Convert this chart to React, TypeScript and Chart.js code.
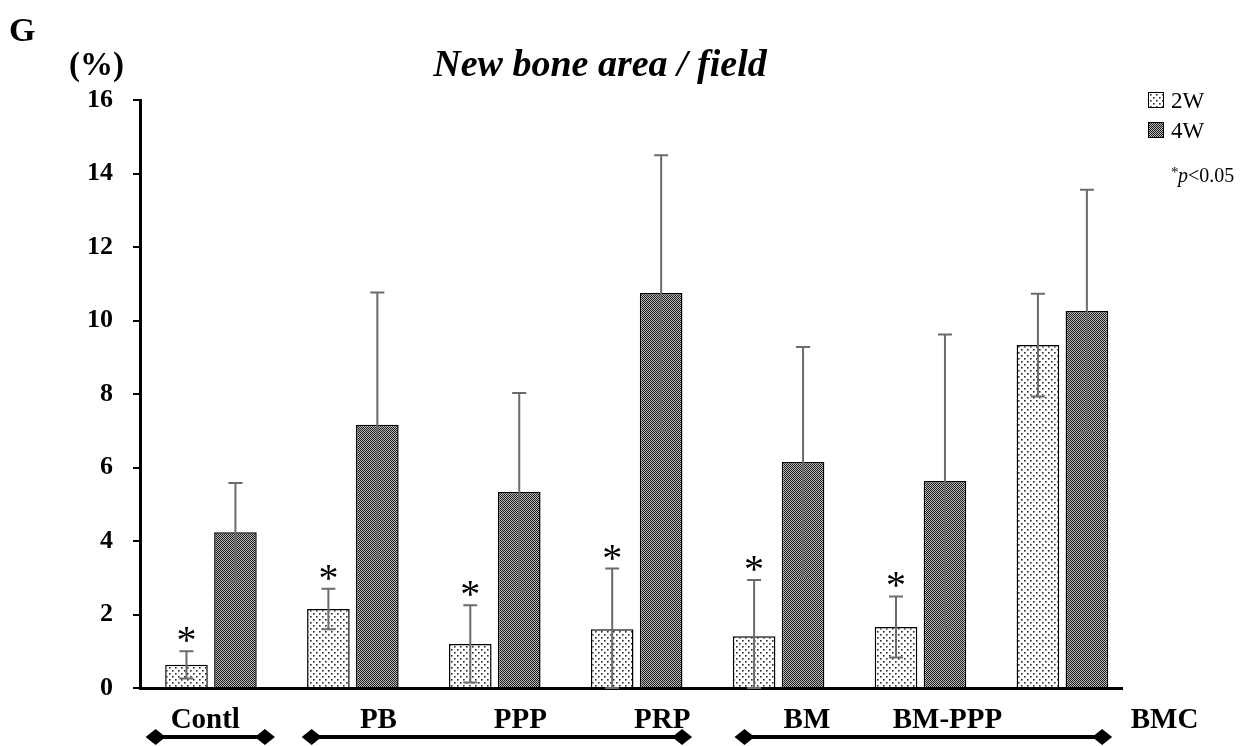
import React, { useEffect, useRef } from "react";
import { Chart, registerables } from "chart.js";

Chart.register(...registerables);

const categories = ["Contl", "PB", "PPP", "PRP", "BM", "BM-PPP", "BMC"];
const mean2W = [0.63, 2.15, 1.2, 1.6, 1.41, 1.66, 9.33];
const sd2W = [0.37, 0.55, 1.05, 1.65, 1.53, 0.83, 1.4];
const mean4W = [4.24, 7.16, 5.33, 10.75, 6.15, 5.63, 10.26];
const sd4W = [1.34, 3.6, 2.7, 3.75, 3.13, 3.99, 3.3];
const significant2W = [true, true, true, true, true, true, false];
const yTicks = [0, 2, 4, 6, 8, 10, 12, 14, 16];
// category tick label positions along the x axis (axis units, group index)
const tickAt = [-0.04, 1.18, 2.18, 3.18, 4.2, 5.19, 6.72];
// bracket spans under the labels (axis units)
const bracketSpans = [
  [-0.39, 0.38],
  [0.71, 3.32],
  [3.76, 6.28],
];
const seriesNames = ["2W", "4W"];

const SERIF = "'Liberation Serif', 'Times New Roman', serif";

function makePattern(kind: "light" | "dark"): CanvasPattern | string {
  const c = document.createElement("canvas");
  const ctx = c.getContext("2d");
  if (!ctx) return kind === "light" ? "#eee" : "#666";
  if (kind === "light") {
    c.width = 6;
    c.height = 6;
    ctx.fillStyle = "#ffffff";
    ctx.fillRect(0, 0, 6, 6);
    ctx.fillStyle = "#2a2a2a";
    ctx.fillRect(1, 1, 1.6, 1.6);
    ctx.fillRect(4, 4, 1.6, 1.6);
  } else {
    c.width = 2;
    c.height = 2;
    ctx.fillStyle = "#b8b8b8";
    ctx.fillRect(0, 0, 2, 2);
    ctx.fillStyle = "#1e1e1e";
    ctx.fillRect(0, 0, 1, 1);
    ctx.fillRect(1, 1, 1, 1);
  }
  const p = ctx.createPattern(c, "repeat");
  return p || (kind === "light" ? "#eee" : "#666");
}

export default function App() {
  const ref = useRef<HTMLCanvasElement | null>(null);

  useEffect(() => {
    if (!ref.current) return;
    const light = makePattern("light");
    const dark = makePattern("dark");
    const means = [mean2W, mean4W];
    const sds = [sd2W, sd4W];

    const overlay = {
      id: "overlay",
      afterDatasetsDraw(chart: any) {
        const ctx = chart.ctx as CanvasRenderingContext2D;
        const y = chart.scales.y;
        ctx.save();
        ctx.strokeStyle = "#6b6b6b";
        ctx.lineWidth = 2;
        for (let d = 0; d < 2; d++) {
          const meta = chart.getDatasetMeta(d);
          meta.data.forEach((bar: any, i: number) => {
            const m = means[d][i];
            const s = sds[d][i];
            const yt = y.getPixelForValue(m + s);
            const yb = y.getPixelForValue(Math.max(0, m - s));
            const x = bar.x;
            ctx.beginPath();
            ctx.moveTo(x, yt);
            ctx.lineTo(x, yb);
            ctx.moveTo(x - 7, yt);
            ctx.lineTo(x + 7, yt);
            ctx.moveTo(x - 7, yb);
            ctx.lineTo(x + 7, yb);
            ctx.stroke();
            if (d === 0 && significant2W[i]) {
              ctx.fillStyle = "#000";
              ctx.font = `40px ${SERIF}`;
              ctx.textAlign = "center";
              ctx.textBaseline = "alphabetic";
              ctx.fillText("*", x, yt + 2);
            }
          });
        }
        ctx.restore();
      },
      afterDraw(chart: any) {
        const ctx = chart.ctx as CanvasRenderingContext2D;
        const xs = chart.scales.x;
        const area = chart.chartArea;
        ctx.save();
        ctx.fillStyle = "#000";
        ctx.font = `bold 34px ${SERIF}`;
        ctx.textAlign = "left";
        ctx.textBaseline = "alphabetic";
        ctx.fillText("G", 9, 41);
        ctx.font = `bold 33px ${SERIF}`;
        ctx.fillText("(%)", 69, 75);
        ctx.font = `italic bold 38px ${SERIF}`;
        ctx.textAlign = "center";
        ctx.fillText("New bone area / field", 600, 76);
        // legend
        const fills = [light, dark];
        ctx.textAlign = "left";
        ctx.font = `23px ${SERIF}`;
        seriesNames.forEach((n, i) => {
          const by = 92 + i * 30;
          ctx.fillStyle = fills[i] as any;
          ctx.fillRect(1148, by, 16, 16);
          ctx.strokeStyle = "#000";
          ctx.lineWidth = 1;
          ctx.strokeRect(1148.5, by + 0.5, 15, 15);
          ctx.fillStyle = "#000";
          ctx.fillText(n, 1171, by + 16);
        });
        ctx.font = `15px ${SERIF}`;
        ctx.fillText("*", 1171, 177);
        ctx.font = `italic 20px ${SERIF}`;
        ctx.fillText("p", 1178, 182);
        ctx.font = `20px ${SERIF}`;
        ctx.fillText("<0.05", 1188, 182);
        // brackets
        const by = area.bottom + 49;
        ctx.strokeStyle = "#000";
        ctx.lineWidth = 4;
        bracketSpans.forEach(([a, b]) => {
          const x1 = xs.getPixelForValue(a);
          const x2 = xs.getPixelForValue(b);
          ctx.beginPath();
          ctx.moveTo(x1, by);
          ctx.lineTo(x2, by);
          ctx.stroke();
          [x1, x2].forEach((px) => {
            ctx.beginPath();
            ctx.moveTo(px - 10, by);
            ctx.lineTo(px, by - 8);
            ctx.lineTo(px + 10, by);
            ctx.lineTo(px, by + 8);
            ctx.closePath();
            ctx.fill();
          });
        });
        ctx.restore();
      },
    };

    const chart = new Chart(ref.current, {
      type: "bar",
      data: {
        datasets: [
          {
            label: seriesNames[0],
            data: mean2W.map((v, i) => ({ x: i, y: v })),
            backgroundColor: light as any,
            borderColor: "#000",
            borderWidth: 1.5,
          },
          {
            label: seriesNames[1],
            data: mean4W.map((v, i) => ({ x: i, y: v })),
            backgroundColor: dark as any,
            borderColor: "#000",
            borderWidth: 1.5,
          },
        ],
      },
      options: {
        animation: false,
        responsive: true,
        maintainAspectRatio: false,
        categoryPercentage: 0.697,
        barPercentage: 0.87,
        layout: { padding: { left: 0, top: 100, right: 124, bottom: 0 } },
        plugins: {
          legend: { display: false },
          tooltip: { enabled: false },
          title: { display: false },
        },
        scales: {
          x: {
            type: "linear",
            offset: false,
            min: -0.5,
            max: 6.42,
            grid: { display: false },
            border: { display: true, color: "#000", width: 3 },
            afterBuildTicks: (scale: any) => {
              scale.ticks = tickAt.map((v) => ({ value: v }));
            },
            afterFit: (scale: any) => {
              scale.height = 58;
            },
            ticks: {
              autoSkip: false,
              maxRotation: 0,
              padding: 7,
              color: "#000",
              font: { family: SERIF, size: 29, weight: "bold" },
              callback: (_v: any, i: number) => categories[i],
            },
          },
          y: {
            min: 0,
            max: 16,
            afterBuildTicks: (scale: any) => {
              scale.ticks = yTicks.map((v) => ({ value: v }));
            },
            afterFit: (scale: any) => {
              scale.width = 140;
            },
            grid: {
              drawOnChartArea: false,
              drawTicks: true,
              tickLength: 7,
              color: "#000",
              lineWidth: 2,
            },
            border: { display: true, color: "#000", width: 3 },
            ticks: {
              padding: 20,
              color: "#000",
              font: { family: SERIF, size: 26, weight: "bold" },
            },
          },
        },
      },
      plugins: [overlay],
    });
    return () => chart.destroy();
  }, []);

  return (
    <div
      style={{
        position: "fixed",
        left: 0,
        top: 0,
        width: 1246,
        height: 746,
        background: "#fff",
      }}
    >
      <canvas ref={ref} />
    </div>
  );
}
